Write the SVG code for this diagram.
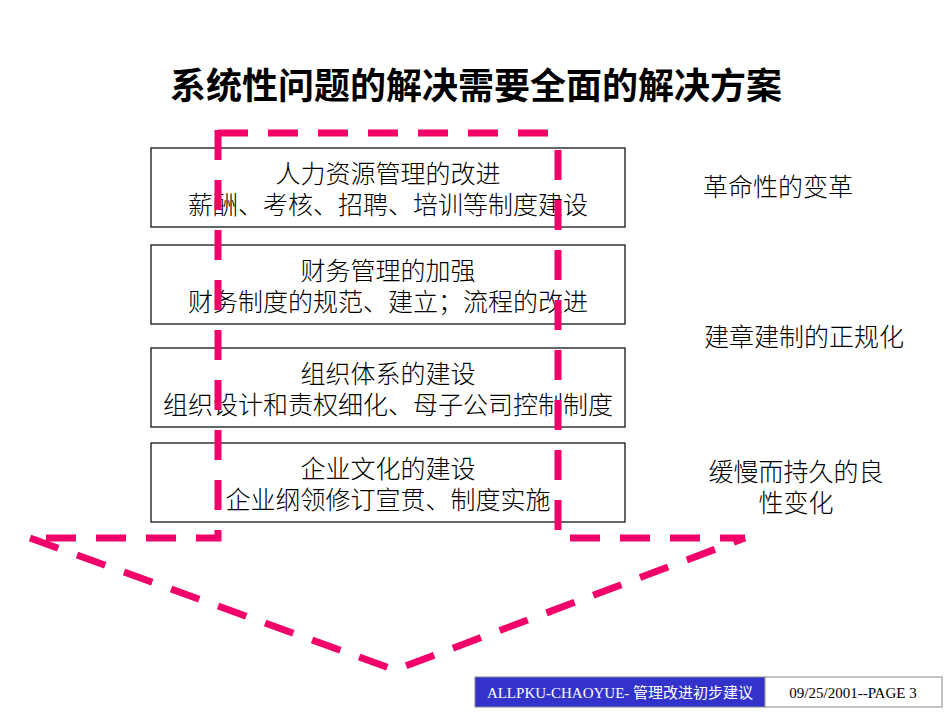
<svg xmlns="http://www.w3.org/2000/svg" width="950" height="713" viewBox="0 0 950 713">
<style>
.t{font-family:"Liberation Serif","Noto Sans CJK SC",serif;font-size:25px;font-weight:300;fill:#000;text-anchor:middle}
.box{fill:#fff;stroke:#000;stroke-width:1.2}
.d{fill:none;stroke:#F2006A;stroke-width:7;stroke-dasharray:30 20}
</style>
<rect width="950" height="713" fill="#fff"/>
<text x="476" y="99" style="font-family:'Noto Sans CJK SC',sans-serif;font-size:36px;font-weight:bold;text-anchor:middle">系统性问题的解决需要全面的解决方案</text>
<g id="n1"><rect class="box" x="151" y="148" width="474" height="79"/><text class="t" x="388" y="183">人力资源管理的改进</text><text class="t" x="388" y="214">薪酬、考核、招聘、培训等制度建设</text></g>
<g id="n2"><rect class="box" x="151" y="245" width="474" height="79"/><text class="t" x="388" y="280">财务管理的加强</text><text class="t" x="388" y="311">财务制度的规范、建立；流程的改进</text></g>
<g id="n3"><rect class="box" x="151" y="348" width="474" height="79"/><text class="t" x="388" y="383">组织体系的建设</text><text class="t" x="388" y="414">组织设计和责权细化、母子公司控制制度</text></g>
<g id="n4"><rect class="box" x="151" y="443" width="474" height="79"/><text class="t" x="388" y="478">企业文化的建设</text><text class="t" x="388" y="509">企业纲领修订宣贯、制度实施</text></g>
<g id="connectors">
<path class="d" d="M218 130 V538 H30"/>
<path class="d" d="M218 133 H555"/>
<path class="d" d="M558 150 V538 H745"/>
<path class="d" d="M30 538 L395 670 L745 538"/>
</g>
<g id="labels">
<text class="t" x="778" y="196">革命性的变革</text>
<text class="t" x="804" y="346">建章建制的正规化</text>
<text class="t" x="796" y="481">缓慢而持久的良</text>
<text class="t" x="796" y="512">性变化</text>
</g>
<g id="footer">
<rect x="475" y="677" width="290" height="30" fill="#3333CC" stroke="#888"/>
<rect x="765" y="677" width="177" height="30" fill="#fff" stroke="#888"/>
<text x="620" y="698" style="font-family:'Liberation Serif','Noto Sans CJK SC',serif;font-size:15px;fill:#fff;text-anchor:middle">ALLPKU-CHAOYUE- 管理改进初步建议</text>
<text x="853" y="698" style="font-family:'Liberation Serif',serif;font-size:15px;text-anchor:middle">09/25/2001--PAGE 3</text>
</g>
</svg>
